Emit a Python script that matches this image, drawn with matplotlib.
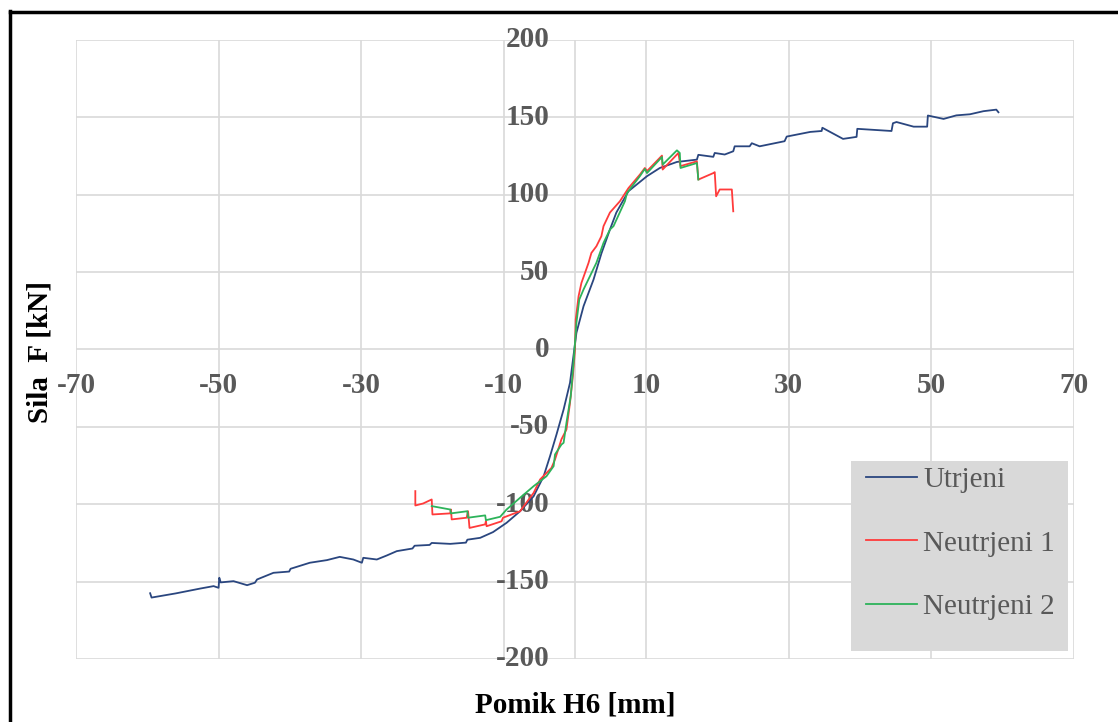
import matplotlib
matplotlib.use("Agg")
import matplotlib.pyplot as plt
from matplotlib.lines import Line2D
from matplotlib.patches import Rectangle

# Force-displacement curves
utrjeni_x = [-59.6, -59.4, -56.0, -52.6, -50.7, -50.0, -49.9, -49.7, -47.9, -46.0, -44.9, -44.6,
             -42.3, -40.1, -39.9, -37.2, -34.8, -33.0, -31.1, -29.9, -29.7, -27.8, -26.4, -25.0,
             -22.8, -22.5, -20.4, -20.1, -17.5, -15.3, -15.1, -13.3, -11.5, -9.6, -7.7, -5.8,
             -4.4, -3.5, -2.6, -1.6, -0.7, -0.1, 0.2, 1.2, 2.6, 3.7, 4.9, 5.8, 7.5, 10.1, 11.9,
             14.3, 17.1, 17.3, 19.4, 19.6, 21.0, 22.2, 22.4, 24.5, 24.8, 25.9, 29.4, 29.7, 33.0,
             34.6, 34.7, 37.6, 39.5, 39.6, 44.4, 44.6, 45.1, 47.5, 49.4, 49.5, 51.7, 53.5, 55.4,
             57.3, 59.1, 59.4]
utrjeni_f = [-157.5, -160.3, -157.6, -154.5, -152.9, -154.0, -147.5, -150.5, -149.7, -152.3, -150.7, -148.6,
             -144.3, -143.5, -141.7, -137.8, -136.1, -134.0, -135.7, -137.8, -134.6, -135.7, -133.1, -130.3,
             -128.6, -126.8, -126.3, -125.0, -125.6, -124.8, -122.9, -121.7, -118.0, -112.0, -104.5, -94.8,
             -81.9, -68.9, -55.0, -38.8, -21.5, 0.0, 10.8, 28.0, 45.2, 62.0, 77.5, 88.5, 102.3, 112.0, 117.3,
             121.2, 122.7, 125.8, 124.5, 127.0, 126.0, 128.1, 131.3, 131.3, 133.3, 131.3, 134.6, 137.6, 140.6,
             141.2, 143.3, 136.1, 137.4, 142.6, 141.2, 146.2, 147.0, 144.0, 144.0, 151.2, 149.0, 151.3, 152.0,
             154.0, 155.0, 153.3]

neutrjeni1_x = [-22.4, -22.4, -21.3, -20.1, -20.0, -17.5, -17.4, -17.3, -15.2, -15.0, -14.8, -12.6,
                -12.5, -12.4, -10.3, -10.1, -7.7, -5.8, -4.9, -3.3, -2.8, -1.9, -1.2, -0.7, -0.3, 0.0,
                0.1, 0.5, 0.9, 1.4, 1.9, 2.3, 3.0, 3.7, 4.0, 4.9, 6.3, 7.5, 9.1, 9.8, 10.1, 12.2, 12.3,
                14.5, 14.8, 17.1, 17.3, 19.4, 19.6, 19.8, 20.3, 22.0, 22.2]
neutrjeni1_f = [-91.5, -100.8, -99.5, -96.9, -106.6, -105.9, -103.4, -109.8, -108.7, -104.5, -115.3, -113.0,
                -110.9, -114.2, -111.0, -108.7, -104.5, -92.6, -84.0, -76.5, -71.0, -58.0, -51.7, -34.4, -17.2, 0.0,
                19.4, 34.4, 43.0, 49.5, 56.0, 62.4, 66.7, 73.2, 79.7, 88.5, 95.8, 104.3, 113.0, 117.3, 115.3, 125.3, 116.3,
                127.0, 118.5, 121.6, 109.8, 114.0, 114.6, 99.0, 103.4, 103.4, 89.3]

neutrjeni2_x = [-20.1, -17.5, -17.4, -15.1, -15.0, -12.6, -12.5, -10.5, -9.6, -7.7, -5.8, -4.0, -3.0,
                -2.8, -1.9, -1.6, -1.2, -0.6, -0.2, 0.0, 0.2, 0.6, 1.2, 2.1, 3.0, 4.0, 4.9, 5.4, 7.0, 7.3,
                9.1, 9.8, 10.1, 12.2, 12.3, 14.3, 14.7, 14.8, 17.1, 17.3]
neutrjeni2_f = [-101.2, -103.4, -105.9, -104.5, -108.7, -107.2, -110.3, -108.1, -103.4, -95.8, -88.3, -81.9, -75.4,
                -67.8, -61.4, -60.3, -47.4, -30.2, -8.6, 4.3, 17.2, 32.3, 38.8, 47.4, 56.0, 68.9, 77.5, 79.7, 95.8, 101.2,
                112.0, 116.7, 114.0, 124.4, 119.5, 128.7, 127.0, 117.3, 120.5, 109.8]

series_labels = ["Utrjeni", "Neutrjeni 1", "Neutrjeni 2"]
series_colors = ["#2A467F", "#FF3B3B", "#2DB35A"]

x_ticks = [-70, -50, -30, -10, 10, 30, 50, 70]
y_ticks = [-200, -150, -100, -50, 0, 50, 100, 150, 200]

W, H = 1118, 722
fig = plt.figure(figsize=(W / 100, H / 100), dpi=100)
fig.patch.set_facecolor("white")

ax = fig.add_axes([76 / W, 1 - 659 / H, (1074 - 76) / W, (659 - 40) / H])
ax.set_xlim(-70, 70)
ax.set_ylim(-200, 200)

grid_c = "#D9D9D9"
for v in x_ticks:
    ax.axvline(v, color=grid_c, lw=1.2, zorder=0)
for v in y_ticks:
    ax.axhline(v, color=grid_c, lw=1.2, zorder=0)
ax.axvline(0, color=grid_c, lw=1.2, zorder=0)

for s in ax.spines.values():
    s.set_visible(False)
ax.set_xticks([])
ax.set_yticks([])

tick_font = dict(family="Liberation Serif", weight="bold", size=21, color="#595959")
for v in x_ticks:
    ax.text(v, -23.5, f"{v}", ha="center", va="center", **tick_font)
for v in y_ticks:
    ax.text(-3.6, v, f"{v}", ha="right", va="center", **tick_font)

series = [(utrjeni_x, utrjeni_f), (neutrjeni1_x, neutrjeni1_f), (neutrjeni2_x, neutrjeni2_f)]
handles = []
for (xs, ys), lab, col in zip(series, series_labels, series_colors):
    h, = ax.plot(xs, ys, color=col, lw=1.3, label=lab, zorder=3)
    handles.append(h)

# Legend box
fig.add_artist(Rectangle((851 / W, 1 - 651 / H), (1068 - 851) / W, (651 - 461) / H,
                         transform=fig.transFigure, facecolor="#D9D9D9", edgecolor="none", zorder=4))
leg = fig.legend(handles=handles, loc="upper left", bbox_to_anchor=(846 / W, 1 - 446 / H),
                 frameon=False, prop=dict(family="Liberation Serif", size=21),
                 handlelength=1.75, handletextpad=0.2, labelspacing=1.28, borderpad=0.2)
leg.set_zorder(5)
for t in leg.get_texts():
    t.set_color("#595959")

axis_font = dict(family="Liberation Serif", weight="bold", size=21, color="black")
fig.text(575 / W, 1 - 705 / H, "Pomik H6 [mm]", ha="center", va="center", **axis_font)
fig.text(40 / W, 1 - 352 / H, "Sila  F [kN]", ha="center", va="center", rotation=90, **axis_font)

# Outer frame
fig.add_artist(Line2D([10 / W, 10 / W], [0, 1 - 11 / H], transform=fig.transFigure, color="black", lw=2.5))
fig.add_artist(Line2D([10 / W, 1], [1 - 12 / H, 1 - 12 / H], transform=fig.transFigure, color="black", lw=2.5))

fig.savefig("out.png", dpi=100)
